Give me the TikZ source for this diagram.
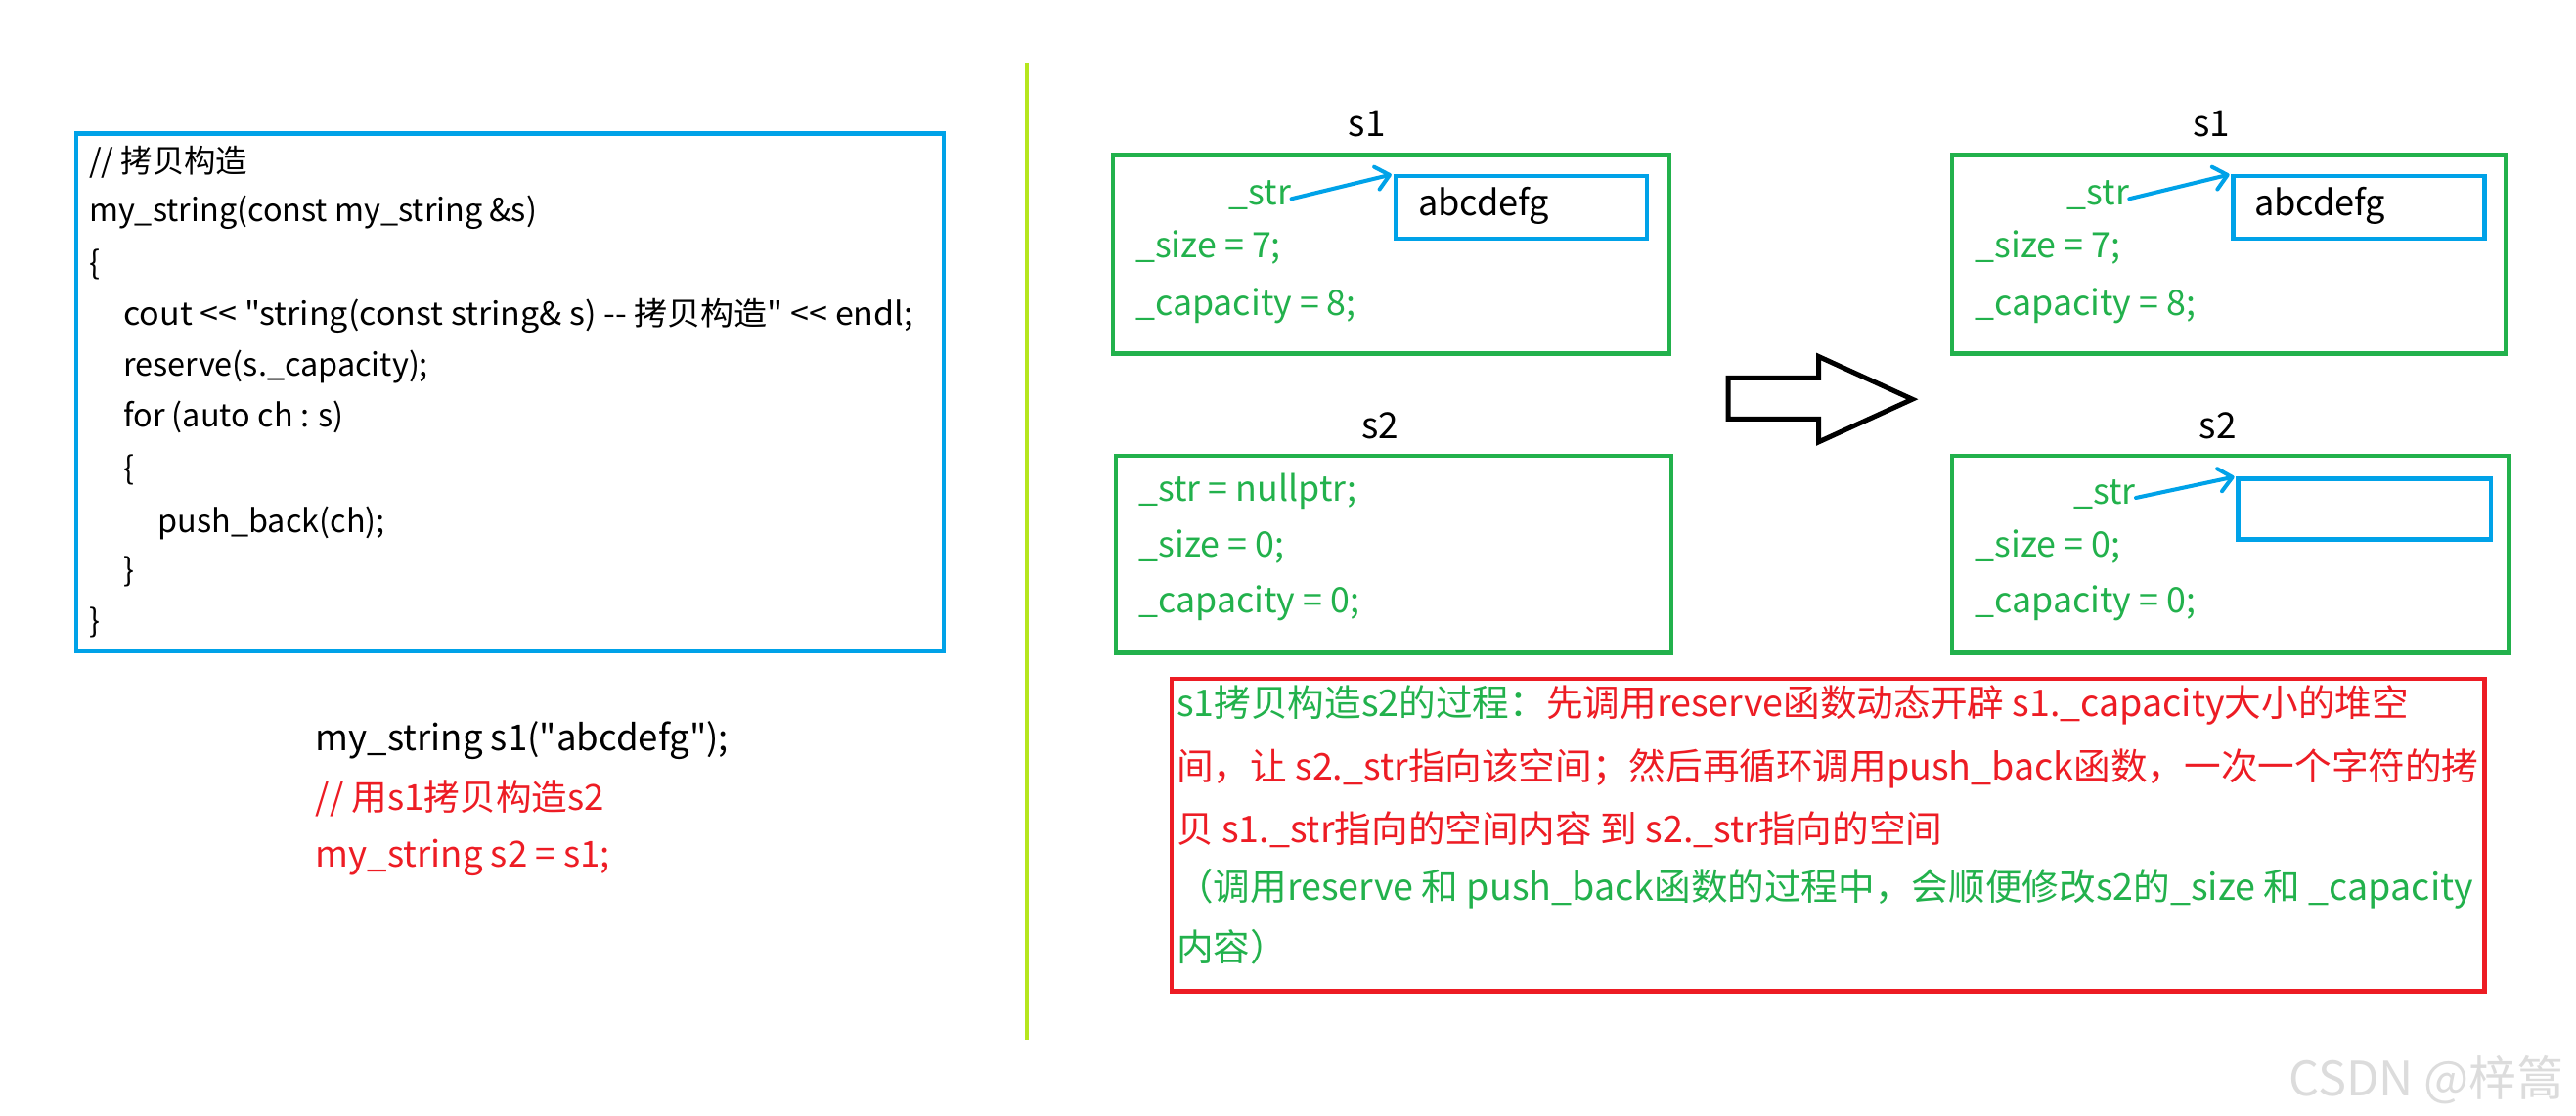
\documentclass[tikz,border=0pt]{standalone}
\usepackage{graphicx}
\usepackage{fontspec}
\setmainfont{Noto Sans CJK SC}[Ligatures=TeXOff]
\usetikzlibrary{arrows.meta}
\definecolor{cblue}{HTML}{00A2E8}
\definecolor{cgreen}{HTML}{22B14C}
\definecolor{cred}{HTML}{ED1C24}
\definecolor{cyg}{HTML}{B5E61D}
\definecolor{cwm}{HTML}{DCDCDC}
\begin{document}
\begin{tikzpicture}[x=1pt,y=-1pt,
  box/.style={draw, line width=2.6pt, anchor=north west, inner sep=0pt},
  gbox/.style={box, draw=cgreen},
  bbox/.style={box, draw=cblue},
  code/.style={anchor=base west, inner sep=0pt, font=\fontsize{19.3}{22}\selectfont},
  big/.style={anchor=base west, inner sep=0pt, font=\fontsize{21.8}{24}\selectfont},
  fld/.style={big, text=cgreen, font=\fontsize{21.3}{24}\selectfont},
  lbl/.style={anchor=base, inner sep=0pt, font=\fontsize{22}{24}\selectfont},
  note/.style={anchor=base west, inner sep=0pt, font=\fontsize{22.4}{24}\selectfont},
  ptr/.style={draw=cblue, line width=2.4pt, line cap=round, shorten >=1pt,
    -{Straight Barb[length=8pt, width=14pt, line width=2.4pt, round]}},
  blockarrow/.style={draw=black, line width=3pt, line join=miter}
]
\useasboundingbox (0,0) rectangle (1568,679);

% ---------- code box ----------
\node[bbox, minimum width=528pt, minimum height=315pt] (codebox) at (45,80) {};
\node[code] (c1) at (54,105) {// 拷贝构造};
\node[code] (c2) at (54,135) {my\_string(const my\_string \&s)};
\node[code] (c3) at (54,167) {\{};
\node[code] (c4) at (75,198) {\scalebox{1.05}[1]{cout << "string(const string\& s) -- 拷贝构造" << endl;}};
\node[code] (c5) at (75,229) {reserve(s.\_capacity);};
\node[code] (c6) at (75,260) {for (auto ch : s)};
\node[code] (c7) at (75,292) {\{};
\node[code] (c8) at (96,324) {push\_back(ch);};
\node[code] (c9) at (75,354) {\}};
\node[code] (c10) at (54,385) {\}};

% ---------- usage ----------
\node[big] (u1) at (192,457) {my\_string s1("abcdefg");};
\node[big, text=cred] (u2) at (192,493) {// 用s1拷贝构造s2};
\node[big, text=cred] (u3) at (192,528) {my\_string s2 = s1;};

% ---------- divider ----------
\coordinate (dtop) at (625,38);
\coordinate (dbot) at (625,633);
\draw[cyg, line width=2.6pt] (dtop) -- (dbot);

% ---------- left s1 ----------
\node[lbl] (ls1) at (832,83) {s1};
\node[gbox, minimum width=339pt, minimum height=121pt] (ls1box) at (676,93) {};
\node[bbox, minimum width=153pt, minimum height=38pt] (lbuf1) at (848,106) {};
\node[big, anchor=west, font=\fontsize{21.5}{24}\selectfont] (lbuf1t) at (863,125) {abcdefg};
\node[fld] (lstr1) at (748,125) {\_str};
\node[fld] (lsz1) at (691,157) {\_size = 7;};
\node[fld] (lcap1) at (691,192) {\_capacity = 8;};
\draw[ptr] (lstr1.base east) ++(0,-4) coordinate (lp1) (lp1) -- (lbuf1.north west);

% ---------- left s2 ----------
\node[lbl] (ls2) at (840,267) {s2};
\node[gbox, minimum width=338pt, minimum height=120pt] (ls2box) at (678,276) {};
\node[fld] (lstr2) at (693,305) {\_str = nullptr;};
\node[fld] (lsz2) at (693,339) {\_size = 0;};
\node[fld] (lcap2) at (693,373) {\_capacity = 0;};

% ---------- block arrow ----------
\draw[blockarrow] (1052,230) -- (1107,230) -- (1107,217) -- (1164,243)
  -- (1107,269) -- (1107,255) -- (1052,255) -- cycle;

% ---------- right s1 ----------
\node[lbl] (rs1) at (1346,83) {s1};
\node[gbox, minimum width=337pt, minimum height=121pt] (rs1box) at (1187,93) {};
\node[bbox, minimum width=153pt, minimum height=38pt] (rbuf1) at (1358,106) {};
\node[big, anchor=west, font=\fontsize{21.5}{24}\selectfont] (rbuf1t) at (1372,125) {abcdefg};
\node[fld] (rstr1) at (1258,125) {\_str};
\node[fld] (rsz1) at (1202,157) {\_size = 7;};
\node[fld] (rcap1) at (1202,192) {\_capacity = 8;};
\draw[ptr] (rstr1.base east) ++(0,-4) coordinate (rp1) (rp1) -- (rbuf1.north west);

% ---------- right s2 ----------
\node[lbl] (rs2) at (1350,267) {s2};
\node[gbox, minimum width=339pt, minimum height=120pt] (rs2box) at (1187,276) {};
\node[bbox, minimum width=154pt, minimum height=37pt] (rbuf2) at (1361,290) {};
\node[fld] (rstr2) at (1262,307) {\_str};
\node[fld] (rsz2) at (1202,339) {\_size = 0;};
\node[fld] (rcap2) at (1202,373) {\_capacity = 0;};
\draw[ptr] (rstr2.base east) ++(0,-4) coordinate (rp2) (rp2) -- (rbuf2.north west);

% ---------- explanation ----------
\node[box, draw=cred, minimum width=799pt, minimum height=190pt] (expl) at (712,412) {};
\node[note] (e1) at (716,436) {{\color{cgreen}s1拷贝构造s2的过程：}{\color{cred}先调用reserve函数动态开辟 s1.\_capacity大小的堆空}};
\node[note, text=cred] (e2) at (716,475) {间，让 s2.\_str指向该空间；然后再循环调用push\_back函数，一次一个字符的拷};
\node[note, text=cred] (e3) at (716,513) {贝 s1.\_str指向的空间内容 到 s2.\_str指向的空间};
\node[note, text=cgreen] (e4) at (716,548) {（调用reserve 和 push\_back函数的过程中，会顺便修改s2的\_size 和 \_capacity};
\node[note, text=cgreen] (e5) at (716,585) {内容）};

% ---------- watermark ----------
\node[anchor=base west, inner sep=0pt, text=cwm, font=\fontsize{29}{30}\selectfont] (wm) at (1393,667) {CSDN @梓篙};
\end{tikzpicture}
\end{document}
